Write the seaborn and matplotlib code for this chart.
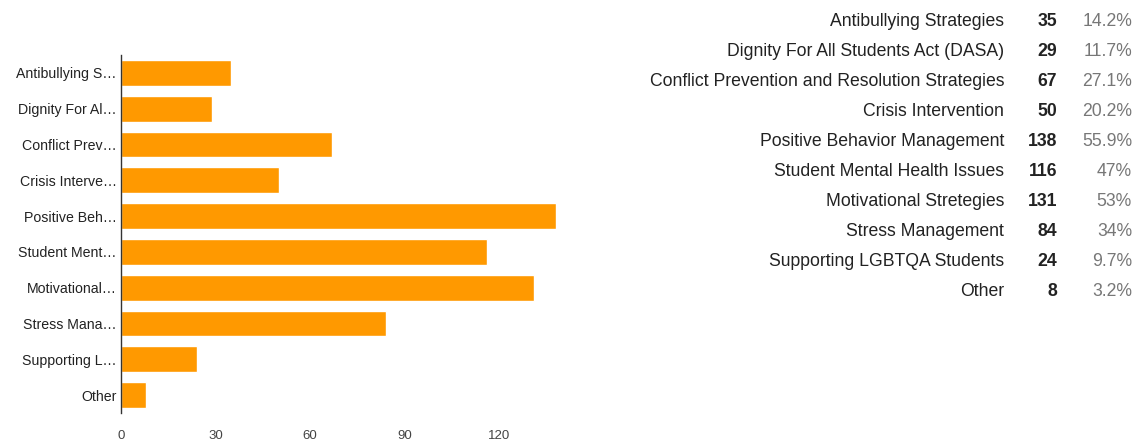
import matplotlib
matplotlib.use("Agg")
import matplotlib.pyplot as plt
import seaborn as sns
import pandas as pd

categories = ["Antibullying Strategies", "Dignity For All Students Act (DASA)",
              "Conflict Prevention and Resolution Strategies", "Crisis Intervention",
              "Positive Behavior Management", "Student Mental Health Issues",
              "Motivational Stretegies", "Stress Management",
              "Supporting LGBTQA Students", "Other"]
short_labels = ["Antibullying S\u2026", "Dignity For Al\u2026", "Conflict Prev\u2026",
                "Crisis Interve\u2026", "Positive Beh\u2026", "Student Ment\u2026",
                "Motivational\u2026", "Stress Mana\u2026", "Supporting L\u2026", "Other"]
counts = [35, 29, 67, 50, 138, 116, 131, 84, 24, 8]
percents = ["14.2%", "11.7%", "27.1%", "20.2%", "55.9%", "47%", "53%", "34%", "9.7%", "3.2%"]
x_ticks = [0, 30, 60, 90, 120]

sns.set_theme(style="white")
plt.rcParams['font.family'] = ['Liberation Sans', 'DejaVu Sans']

df = pd.DataFrame({"label": short_labels, "count": counts})

fig = plt.figure(figsize=(11.36, 4.4), dpi=100)
ax = fig.add_axes([121/1136, 1 - 413/440, (556-121)/1136, (413-55)/440])
sns.barplot(data=df, y="label", x="count", orient="h", color="#FF9900",
            saturation=1, width=0.72, ax=ax)
ax.set_xlim(0, 138)
ax.set_xticks(x_ticks)
ax.set_xticklabels([str(t) for t in x_ticks], fontsize=9.5, color="#444444")
ax.tick_params(axis="y", labelsize=10.2, labelcolor="#222222", length=0, pad=3)
ax.tick_params(axis="x", length=0, pad=12)
ax.set_xlabel("")
ax.set_ylabel("")
for s in ["top", "right", "bottom"]:
    ax.spines[s].set_visible(False)
ax.spines["left"].set_color("#333333")
ax.spines["left"].set_linewidth(1)
ax.grid(False)

# table on the right
y0 = 21
dy = 30.1
for i, (name, c, p) in enumerate(zip(categories, counts, percents)):
    yy = 1 - (y0 + i * dy) / 440
    fig.text(1004/1136, yy, name, ha="right", va="center", fontsize=12.7, color="#222222")
    fig.text(1057/1136, yy, str(c), ha="right", va="center", fontsize=12.7,
             color="#222222", fontweight="bold")
    fig.text(1132/1136, yy, p, ha="right", va="center", fontsize=12.7, color="#777777")

fig.savefig("out.png", dpi=100)
